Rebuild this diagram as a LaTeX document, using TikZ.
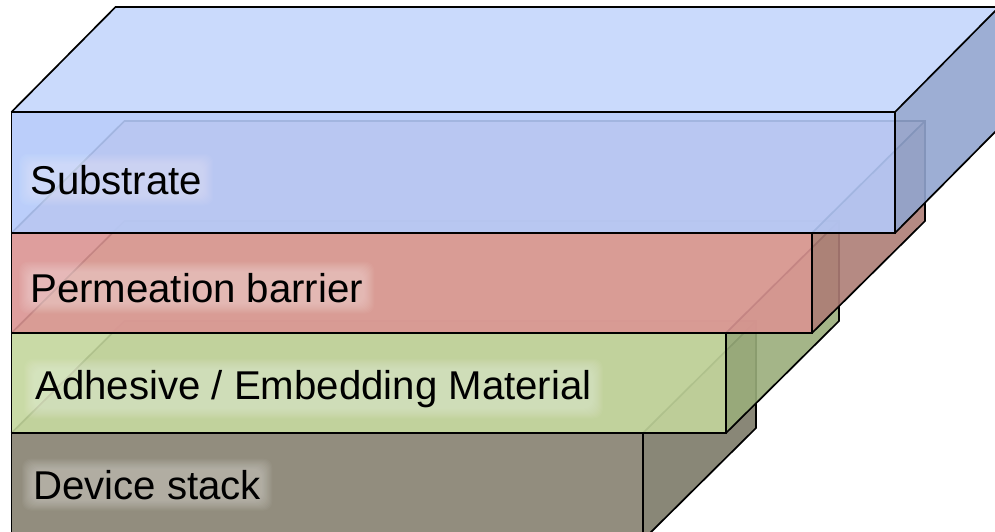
\documentclass[tikz,border=0pt]{standalone}
\usepackage{fontspec}
\setmainfont{Liberation Sans}
\pgfdeclarelayer{front}
\pgfsetlayers{main,front}
\definecolor{subFront}{RGB}{180,201,249}
\definecolor{subTop}{RGB}{196,214,252}
\definecolor{subRight}{RGB}{146,165,207}
\definecolor{perFront}{RGB}{218,148,146}
\definecolor{perTop}{RGB}{230,180,175}
\definecolor{perRight}{RGB}{173,125,118}
\definecolor{adhFront}{RGB}{195,214,156}
\definecolor{adhTop}{RGB}{210,225,175}
\definecolor{adhRight}{RGB}{154,173,123}
\definecolor{devFront}{RGB}{134,129,112}
\definecolor{devTop}{RGB}{175,170,150}
\definecolor{devRight}{RGB}{124,122,104}
\tikzset{
  edge/.style={draw=black, line width=1.7pt, line join=miter},
  face/.style={fill opacity=0.9},
  layerlabel/.style={anchor=base west, inner sep=0pt, font=\fontsize{40.2}{48}\selectfont, text=black},
}
% #1 left x, #2 top y, #3 right x, #4 bottom y, #5 depth dx, #6 depth dy (up), #7 front, #8 top, #9 right
\newcommand{\drawlayer}[9]{%
  \fill[face, #7] (#1,#2) rectangle (#3,#4);
  \fill[face, #8] (#1,#2) -- (#1+#5,#2-#6) -- (#3+#5,#2-#6) -- (#3,#2) -- cycle;
  \fill[face, #9] (#3,#2) -- (#3+#5,#2-#6) -- (#3+#5,#4-#6) -- (#3,#4) -- cycle;
  \draw[edge] (#1,#2) rectangle (#3,#4);
  \draw[edge] (#1,#2) -- (#1+#5,#2-#6) -- (#3+#5,#2-#6) -- (#3+#5,#4-#6) -- (#3,#4);
  \draw[edge] (#3,#2) -- (#3+#5,#2-#6);
}
\newcommand{\glowfor}[1]{%
  \foreach \r in {1,2,...,11} {
    \fill[white, fill opacity=0.035, rounded corners=9pt]
      ([shift={(-\r,-\r)}]#1.north west) rectangle ([shift={(\r,\r)}]#1.south east);
  }
}
\begin{document}
\begin{tikzpicture}[x=1pt, y=-1pt]
\useasboundingbox (0,0) rectangle (995,532);
\begin{scope}
\clip (0,0) rectangle (995,532);
\drawlayer{11.5}{433}{643}{540}{113}{112}{devFront}{devTop}{devRight}
\drawlayer{11.5}{333}{726}{433}{113}{112}{adhFront}{adhTop}{adhRight}
\drawlayer{11.5}{233}{812}{333}{113}{112}{perFront}{perTop}{perRight}
\drawlayer{11.5}{112}{895}{233}{104}{105}{subFront}{subTop}{subRight}
\end{scope}
\begin{pgfonlayer}{front}
\node[layerlabel] (lsub) at (30,194) {Substrate};
\node[layerlabel] (lper) at (30,302) {Permeation barrier};
\node[layerlabel] (ladh) at (35,399) {Adhesive / Embedding Material};
\node[layerlabel] (ldev) at (33,499) {Device stack};
\end{pgfonlayer}
\glowfor{lsub}
\glowfor{lper}
\glowfor{ladh}
\glowfor{ldev}
\end{tikzpicture}
\end{document}
